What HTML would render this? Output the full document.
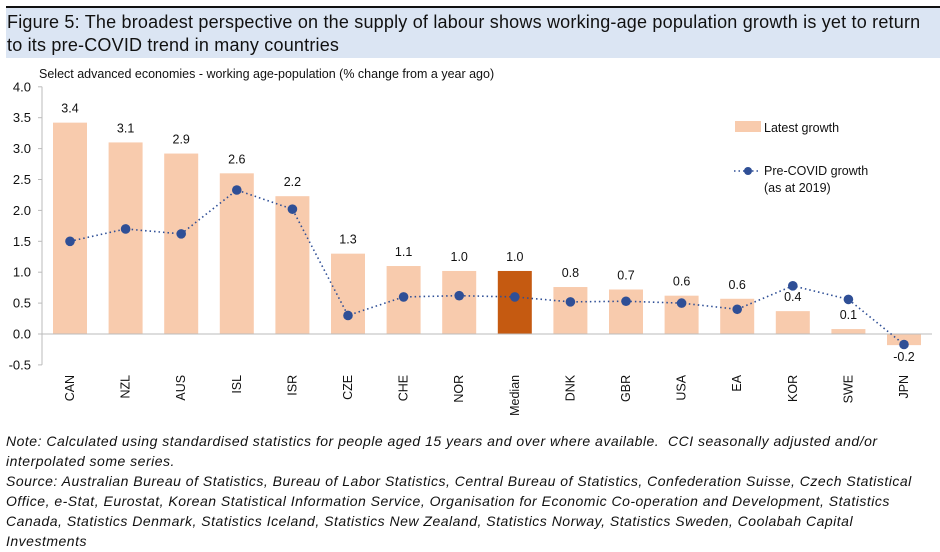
<!DOCTYPE html>
<html><head><meta charset="utf-8"><style>
body{margin:0;width:940px;height:552px;background:#fff;font-family:"Liberation Sans",sans-serif;overflow:hidden;position:relative}
#title{position:absolute;left:6px;top:6px;width:934px;height:52px;background:#dbe5f3;border-top:2px solid #111;font-size:18px;letter-spacing:0.2px;line-height:23px;color:#111;padding:3px 0 0 1px;box-sizing:border-box;white-space:nowrap;overflow:hidden}
#notes{position:absolute;left:6px;top:431px;width:934px;font-style:italic;font-size:14px;letter-spacing:0.5px;line-height:20px;color:#111;white-space:nowrap}
svg{position:absolute;left:0;top:0}
</style></head><body>
<div id="title">Figure 5: The broadest perspective on the supply of labour shows working-age population growth is yet to return<br>to its pre-COVID trend in many countries</div>
<svg id="chart" width="940" height="430" font-family="Liberation Sans, sans-serif"></svg>
<div id="notes">Note: Calculated using standardised statistics for people aged 15 years and over where available.&nbsp; CCI seasonally adjusted and/or<br>interpolated some series.<br>Source: Australian Bureau of Statistics, Bureau of Labor Statistics, Central Bureau of Statistics, Confederation Suisse, Czech Statistical<br>Office, e-Stat, Eurostat, Korean Statistical Information Service, Organisation for Economic Co-operation and Development, Statistics<br>Canada, Statistics Denmark, Statistics Iceland, Statistics New Zealand, Statistics Norway, Statistics Sweden, Coolabah Capital<br>Investments</div>
<script>
const categories=["CAN","NZL","AUS","ISL","ISR","CZE","CHE","NOR","Median","DNK","GBR","USA","EA","KOR","SWE","JPN"];
const latest=[3.42,3.1,2.92,2.6,2.23,1.3,1.1,1.02,1.02,0.76,0.72,0.62,0.57,0.37,0.08,-0.18];
const latestLabels=["3.4","3.1","2.9","2.6","2.2","1.3","1.1","1.0","1.0","0.8","0.7","0.6","0.6","0.4","0.1","-0.2"];
const preCovid=[1.5,1.7,1.62,2.33,2.02,0.3,0.6,0.62,0.6,0.52,0.53,0.5,0.4,0.78,0.56,-0.17];
const yTicks=[4.0,3.5,3.0,2.5,2.0,1.5,1.0,0.5,0.0,-0.5];
const NS="http://www.w3.org/2000/svg";
const svg=document.getElementById('chart');
const y=v=>334-v*61.8;
const x=i=>70+i*55.6;
function mk(t,a,txt){const e=document.createElementNS(NS,t);for(const k in a)e.setAttribute(k,a[k]);if(txt!==undefined)e.textContent=txt;svg.appendChild(e);return e;}
let e=mk('text',{x:39,y:78,'font-size':12.5,fill:'#111'},'Select advanced economies - working age-population (% change from a year ago)');


e=mk('line',{x1:42,x2:42,y1:y(4),y2:y(-0.5),stroke:'#bbb'});


yTicks.forEach(v=>{
 let t=mk('text',{x:31,y:y(v)+4.5,'font-size':13,'text-anchor':'end',fill:'#111'},v.toFixed(1));
 
 
 mk('line',{x1:38,x2:42,y1:y(v),y2:y(v),stroke:'#bbb'});
});
latest.forEach((v,i)=>{
 const top=Math.min(y(v),y(0)),h=Math.abs(y(v)-y(0));
 let r=mk('rect',{x:x(i)-17,y:top,width:34,height:h,fill:categories[i]==='Median'?'#c55a11':'#f8cbad'});
 
 
 let ly=v>=0?y(v)-10:y(v)+16;
 let t=mk('text',{x:x(i),y:ly,'font-size':12.5,'text-anchor':'middle',fill:'#111'},latestLabels[i]);
 
 
 let c=mk('text',{transform:`translate(${x(i)+4},${y(-0.5)+10}) rotate(-90)`,'font-size':12.5,'text-anchor':'end',fill:'#111'},categories[i]);
 
 
});
e=mk('line',{x1:42,x2:932,y1:y(0),y2:y(0),stroke:'#bbb'});


e=mk('polyline',{points:preCovid.map((v,i)=>x(i)+','+y(v)).join(' '),fill:'none',stroke:'#2f4f96','stroke-width':1.6,'stroke-dasharray':'1.5 3'});


preCovid.forEach((v,i)=>{
 let p=mk('circle',{cx:x(i),cy:y(v),r:4.8,fill:'#2f4f96'});
 
 
});
e=mk('rect',{x:735,y:121,width:26,height:11,fill:'#f8cbad'});


e=mk('text',{x:764,y:132,'font-size':12.5,fill:'#111'},'Latest growth');


e=mk('line',{x1:734,x2:761,y1:171,y2:171,stroke:'#2f4f96','stroke-width':1.6,'stroke-dasharray':'1.5 3'});


e=mk('circle',{cx:748,cy:171,r:4,fill:'#2f4f96'});


e=mk('text',{x:764,y:175,'font-size':12.5,fill:'#111'},'Pre-COVID growth');


e=mk('text',{x:764,y:192,'font-size':12.5,fill:'#111'},'(as at 2019)');


</script>
</body></html>
